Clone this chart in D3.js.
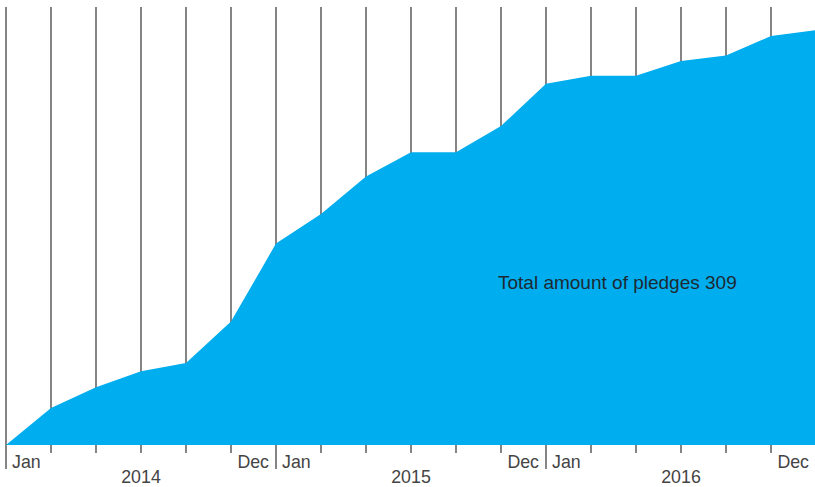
<!DOCTYPE html>
<meta charset="utf-8">
<style>
  body { margin: 0; background: #fff; }
  text { font-family: "Liberation Sans", Arial, sans-serif; }
</style>
<svg width="815" height="487"></svg>
<script src="https://d3js.org/d3.v7.min.js"></script>
<script>
  var svg = d3.select("svg"),
      margin = {top: 7, left: 6, baseline: 445, right: 816};

  // cumulative pledges, every two months
  var dates = ["2014-01", "2014-03", "2014-05", "2014-07", "2014-09", "2014-11",
               "2015-01", "2015-03", "2015-05", "2015-07", "2015-09", "2015-11",
               "2016-01", "2016-03", "2016-05", "2016-07", "2016-09", "2016-11",
               "2017-01"];
  var pledges = [0, 27.5, 43, 55, 61, 92, 150, 172, 200, 218, 218, 237.5,
                 269, 275, 275, 286, 290, 304.5, 309];
  var years = ["2014", "2015", "2016"];
  var total = 309;

  function monthIndex(s) {
    var p = s.split("-");
    return (+p[0] - 2014) * 12 + (+p[1] - 1);
  }

  var data = dates.map(function(d, i) {
    return {m: monthIndex(d), v: pledges[i]};
  });

  var x = d3.scaleLinear().domain([0, 36]).range([margin.left, margin.right]);
  var y = d3.scaleLinear().domain([0, total]).range([margin.baseline, 30]);

  // vertical grid lines behind the area
  svg.append("g")
    .selectAll("line")
    .data(data)
    .enter().append("line")
      .attr("x1", function(d) { return x(d.m); })
      .attr("x2", function(d) { return x(d.m); })
      .attr("y1", margin.top)
      .attr("y2", margin.baseline)
      .attr("stroke", "#333")
      .attr("stroke-width", 1.2);

  var area = d3.area()
      .x(function(d) { return x(d.m); })
      .y0(y(0))
      .y1(function(d) { return y(d.v); });

  svg.append("path")
      .datum(data)
      .attr("fill", "#00adee")
      .attr("d", area);

  // ticks below the baseline
  svg.append("g")
    .selectAll("line")
    .data(data)
    .enter().append("line")
      .attr("x1", function(d) { return x(d.m); })
      .attr("x2", function(d) { return x(d.m); })
      .attr("y1", margin.baseline)
      .attr("y2", function(d) { return d.m % 12 === 0 ? 469 : 453; })
      .attr("stroke", "#333")
      .attr("stroke-width", 1.2);

  var labels = svg.append("g")
      .attr("fill", "#444")
      .attr("font-size", 17.8);

  years.forEach(function(yr, i) {
    var start = i * 12, end = start + 12;
    labels.append("text")
        .attr("x", x(start) + 6)
        .attr("y", 468)
        .text("Jan");
    labels.append("text")
        .attr("x", x(end) - 7)
        .attr("y", 468)
        .attr("text-anchor", "end")
        .text("Dec");
    labels.append("text")
        .attr("x", x(start + 6))
        .attr("y", 483)
        .attr("text-anchor", "middle")
        .text(yr);
  });

  svg.append("text")
      .attr("x", 498)
      .attr("y", 289)
      .attr("fill", "#1e2a33")
      .attr("font-size", 19)
      .text("Total amount of pledges " + total);
</script>
